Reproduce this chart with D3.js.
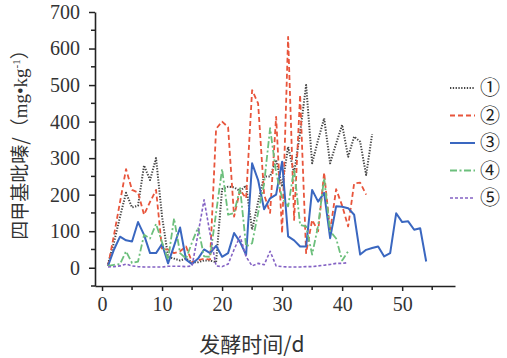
<!DOCTYPE html>
<html><head><meta charset="utf-8">
<script src="https://cdn.jsdelivr.net/npm/d3@7"></script>
<style>html,body{margin:0;padding:0;background:#fff;}</style>
</head><body>
<svg id="c" width="507" height="358"></svg>
<script>
// Day numbers for each series start at day 1
const s1 = [10,70,140,205,165,170,280,240,300,140,30,25,20,25,15,15,20,20,15,215,222,220,210,225,104,180,250,250,295,222,331,259,370,500,286,350,409,286,340,391,304,359,345,254,366];
const s2 = [5,90,180,270,213,206,145,180,213,50,50,40,45,58,15,20,25,22,380,400,385,140,213,190,486,450,200,150,413,95,632,131,473,40,131,100,260,100,215,170,113,231,233,200];
const s3 = [5,50,85,75,72,125,90,40,40,65,12,60,110,22,10,25,50,40,60,30,40,95,70,35,286,240,160,190,200,290,86,75,58,58,213,181,205,81,168,167,163,145,36,49,54,58,31,40,149,125,127,104,108,17];
const s4 = [5,8,10,45,13,17,90,80,120,70,22,135,40,25,70,110,31,30,150,270,145,150,218,58,67,150,230,382,260,190,168,270,117,113,36,115,245,100,80,20,45];
const s5 = [2,3,5,10,5,3,2,2,2,2,4,4,4,3,5,93,186,93,5,3,10,50,86,30,5,12,8,45,5,3,2,2,2,3,3,5,7,9,12,12,14];
const seriesNames = ["①","②","③","④","⑤"];
const xTicks = [0,10,20,30,40,50];
const yTicks = [0,100,200,300,400,500,600,700];

const series = [
  {name: seriesNames[0], values: s1, color: "#444444", dash: "1.3,1.5", width: 2},
  {name: seriesNames[1], values: s2, color: "#e8553c", dash: "5,3", width: 1.8},
  {name: seriesNames[2], values: s3, color: "#3a67c0", dash: null, width: 2},
  {name: seriesNames[3], values: s4, color: "#6cbf7c", dash: "7,2.5,2,2.5", width: 1.8},
  {name: seriesNames[4], values: s5, color: "#8462c4", dash: "3,2", width: 1.6}
];

const svg = d3.select("#c");
const x = d3.scaleLinear().domain([-1.17, 58.8]).range([95, 455]);
const y = d3.scaleLinear().domain([-50, 700]).range([286, 12]);

const serif = "'Liberation Serif', 'DejaVu Serif', serif";
const cjk = "'Noto Sans CJK SC', 'Noto Sans', sans-serif";

// lines
const line = d3.line().x((d,i)=>x(i+1)).y(d=>y(d));
series.forEach(s=>{
  svg.append("path").datum(s.values)
    .attr("fill","none").attr("stroke",s.color).attr("stroke-width",s.width)
    .attr("stroke-dasharray",s.dash).attr("stroke-linejoin","round")
    .attr("d",line);
});

// x axis
const xAxis = svg.append("g").attr("transform","translate(0,286)");
xAxis.call(d3.axisBottom(x).tickValues(xTicks).tickSize(5).tickSizeOuter(0).tickPadding(6).tickFormat(d3.format("d")));
xAxis.append("g").selectAll("line").data(d3.range(5,56,10)).join("line")
  .attr("x1",d=>x(d)).attr("x2",d=>x(d)).attr("y1",0).attr("y2",4).attr("stroke","#222").attr("stroke-width",1.5);
xAxis.selectAll("text").style("font-family",serif).style("font-size","20px").attr("fill","#333");
xAxis.select(".domain").attr("stroke","#222").attr("stroke-width",1.6);
xAxis.selectAll(".tick line").attr("stroke","#222").attr("stroke-width",1.5);

// y axis
const yAxis = svg.append("g").attr("transform","translate(95,0)");
yAxis.call(d3.axisLeft(y).tickValues(yTicks).tickSize(6).tickSizeOuter(0).tickPadding(9));
yAxis.append("g").selectAll("line").data(d3.range(-50,700,100)).join("line")
  .attr("y1",d=>y(d)).attr("y2",d=>y(d)).attr("x1",0).attr("x2",-4).attr("stroke","#222").attr("stroke-width",1.5);
yAxis.selectAll("text").style("font-family",serif).style("font-size","20px").attr("fill","#333");
yAxis.select(".domain").attr("stroke","#222").attr("stroke-width",1.6);
yAxis.selectAll(".tick line").attr("stroke","#222").attr("stroke-width",1.5);

// axis titles
svg.append("text").attr("x",252).attr("y",352).attr("text-anchor","middle")
  .style("font-family",cjk).style("font-size","21px").attr("fill","#333")
  .text("发酵时间/d");

const yt = svg.append("text").attr("transform","translate(27,140) rotate(-90)")
  .attr("text-anchor","middle").style("font-family",cjk).style("font-size","19px").attr("fill","#333");
yt.append("tspan").text("四甲基吡嗪/（");
yt.append("tspan").style("font-family",serif).text("mg•kg");
yt.append("tspan").style("font-family",serif).style("font-size","11px").attr("dy",-7).text("-1");
yt.append("tspan").attr("dy",7).text("）");

// legend
const lg = svg.append("g");
series.forEach((s,i)=>{
  const yy = 88 + i*27.5;
  lg.append("line").attr("x1",450).attr("x2",475).attr("y1",yy).attr("y2",yy)
    .attr("stroke",s.color).attr("stroke-width",s.width).attr("stroke-dasharray",s.dash);
  lg.append("text").attr("x",480).attr("y",yy).attr("dy","0.35em")
    .style("font-family",cjk).style("font-size","20px").attr("fill","#222").text(s.name);
});
</script>
</body></html>
